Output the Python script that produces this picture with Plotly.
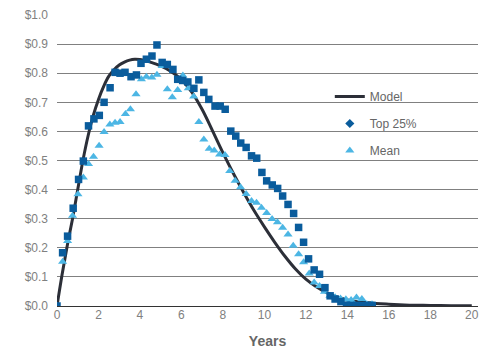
import plotly.graph_objects as go

# Model curve
model_t = [0, 0.25, 0.5, 0.75, 1.0, 1.25, 1.5, 1.75, 2.0, 2.25, 2.5, 2.75, 3.0, 3.25, 3.5, 3.75,
           4.0, 4.25, 4.5, 4.75, 5.0, 5.5, 6.0, 6.5, 7.0, 7.5, 8.0, 8.5, 9.0, 9.5, 10.0, 10.5,
           11.0, 11.5, 12.0, 12.5, 13.0, 13.5, 14.0, 15.0, 16.0, 17.0, 18.0, 19.0, 20.0]
model_v = [0, 0.11, 0.21, 0.30, 0.40, 0.50, 0.585, 0.655, 0.71, 0.755, 0.79, 0.812, 0.828, 0.838, 0.845, 0.848,
           0.847, 0.844, 0.838, 0.832, 0.825, 0.806, 0.778, 0.735, 0.675, 0.602, 0.527, 0.456, 0.39, 0.328, 0.272, 0.219,
           0.170, 0.127, 0.092, 0.066, 0.046, 0.031, 0.021, 0.011, 0.006, 0.003, 0.002, 0.001, 0.001]

# Top 25%
top_t = [0, 0.27, 0.51, 0.78, 1.04, 1.27, 1.52, 1.78, 2.04, 2.27, 2.56, 2.8, 3.04, 3.28, 3.57, 3.83,
         4.05, 4.31, 4.58, 4.82, 5.07, 5.32, 5.59, 5.82, 6.06, 6.31, 6.6, 6.84, 7.08, 7.32, 7.62, 7.87,
         8.11, 8.38, 8.62, 8.86, 9.12, 9.38, 9.63, 9.88, 10.11, 10.38, 10.64, 10.88, 11.14, 11.41, 11.65, 11.89,
         12.13, 12.4, 12.66, 12.92, 13.17, 13.41, 13.69, 13.96, 14.2, 14.45, 14.7, 14.95, 15.2]
top_v = [0, 0.183, 0.24, 0.336, 0.435, 0.498, 0.619, 0.643, 0.655, 0.70, 0.75, 0.803, 0.80, 0.803, 0.788, 0.794,
         0.834, 0.848, 0.859, 0.897, 0.837, 0.83, 0.813, 0.779, 0.775, 0.77, 0.748, 0.777, 0.734, 0.71, 0.687, 0.687,
         0.676, 0.601, 0.584, 0.56, 0.545, 0.516, 0.508, 0.459, 0.43, 0.416, 0.404, 0.378, 0.349, 0.318, 0.27, 0.219,
         0.162, 0.124, 0.109, 0.063, 0.035, 0.024, 0.015, 0.003, 0.002, 0.002, 0.002, 0.002, 0.002]

# Mean
mean_t = [0, 0.27, 0.51, 0.75, 1.01, 1.27, 1.52, 1.76, 2.03, 2.27, 2.55, 2.8, 3.04, 3.3, 3.54, 3.81,
          4.07, 4.31, 4.57, 4.82, 5.07, 5.32, 5.56, 5.82, 6.07, 6.33, 6.59, 6.84, 7.08, 7.34, 7.58, 7.84,
          8.1, 8.33, 8.59, 8.85, 9.12, 9.38, 9.62, 9.86, 10.11, 10.37, 10.63, 10.88, 11.14, 11.39, 11.65, 11.89,
          12.16, 12.4, 12.66, 12.9, 13.16, 13.41, 13.67, 13.93, 14.18, 14.44, 14.7, 14.94, 15.19]
mean_v = [0, 0.152, 0.223, 0.31, 0.384, 0.442, 0.488, 0.513, 0.551, 0.598, 0.624, 0.63, 0.632, 0.66, 0.676, 0.728,
          0.779, 0.788, 0.785, 0.795, 0.825, 0.745, 0.717, 0.742, 0.792, 0.748, 0.72, 0.632, 0.572, 0.54, 0.534, 0.521,
          0.519, 0.464, 0.43, 0.408, 0.385, 0.361, 0.355, 0.338, 0.32, 0.299, 0.288, 0.269, 0.246, 0.207, 0.178, 0.15,
          0.112, 0.081, 0.069, 0.049, 0.035, 0.03, 0.026, 0.023, 0.021, 0.029, 0.024, 0.006, 0.006]

y_ticks = [0.0, 0.1, 0.2, 0.3, 0.4, 0.5, 0.6, 0.7, 0.8, 0.9, 1.0]
y_labels = ["$0.0", "$0.1", "$0.2", "$0.3", "$0.4", "$0.5", "$0.6", "$0.7", "$0.8", "$0.9", "$1.0"]
x_ticks = [0, 2, 4, 6, 8, 10, 12, 14, 16, 18, 20]

MODEL_C = "#2c2f38"
TOP_C = "#0a5c9c"
MEAN_C = "#4cb6e4"

fig = go.Figure()
fig.add_trace(go.Scatter(x=model_t, y=model_v, mode="lines", line=dict(color=MODEL_C, width=3, shape="spline", smoothing=1.0),
                         showlegend=False, hoverinfo="skip"))
fig.add_trace(go.Scatter(x=mean_t, y=mean_v, mode="markers",
                         marker=dict(symbol="triangle-up", size=8, color=MEAN_C), showlegend=False))
fig.add_trace(go.Scatter(x=top_t, y=top_v, mode="markers",
                         marker=dict(symbol="square", size=7.5, color=TOP_C), showlegend=False))

# legend proxies
fig.add_trace(go.Scatter(x=[None], y=[None], mode="lines", name="Model",
                         line=dict(color=MODEL_C, width=3), legendgroup="a"))
fig.add_trace(go.Scatter(x=[None], y=[None], mode="markers", name="Top 25%",
                         marker=dict(symbol="diamond", size=7, color=TOP_C), legendgroup="b"))
fig.add_trace(go.Scatter(x=[None], y=[None], mode="markers", name="Mean",
                         marker=dict(symbol="triangle-up", size=8, color=MEAN_C), legendgroup="c"))

FONT = "Liberation Sans, Arial, sans-serif"
fig.update_layout(
    width=484, height=354,
    margin=dict(l=57, r=6, t=15, b=48),
    paper_bgcolor="white", plot_bgcolor="white",
    font=dict(family=FONT, size=12, color="#808080"),
    legend=dict(x=0.648, y=0.77, xanchor="left", yanchor="top", tracegroupgap=8,
                font=dict(size=12, color="#666666"), bgcolor="rgba(0,0,0,0)"),
    xaxis=dict(range=[0, 20.3], tickvals=x_ticks, showgrid=False, zeroline=False,
               showline=False, ticks="", tickfont=dict(size=12, color="#808080"),
               title=dict(text="<b>Years</b>", font=dict(size=14, color="#666666"), standoff=15)),
    yaxis=dict(range=[0, 1.0], tickvals=y_ticks, ticktext=y_labels, showgrid=True,
               gridcolor="#808080", gridwidth=1.2, zeroline=True, zerolinecolor="#333333", zerolinewidth=1.3,
               ticks="", ticklabelstandoff=8, tickfont=dict(size=12, color="#808080")),
)

fig.write_html("out.html")
